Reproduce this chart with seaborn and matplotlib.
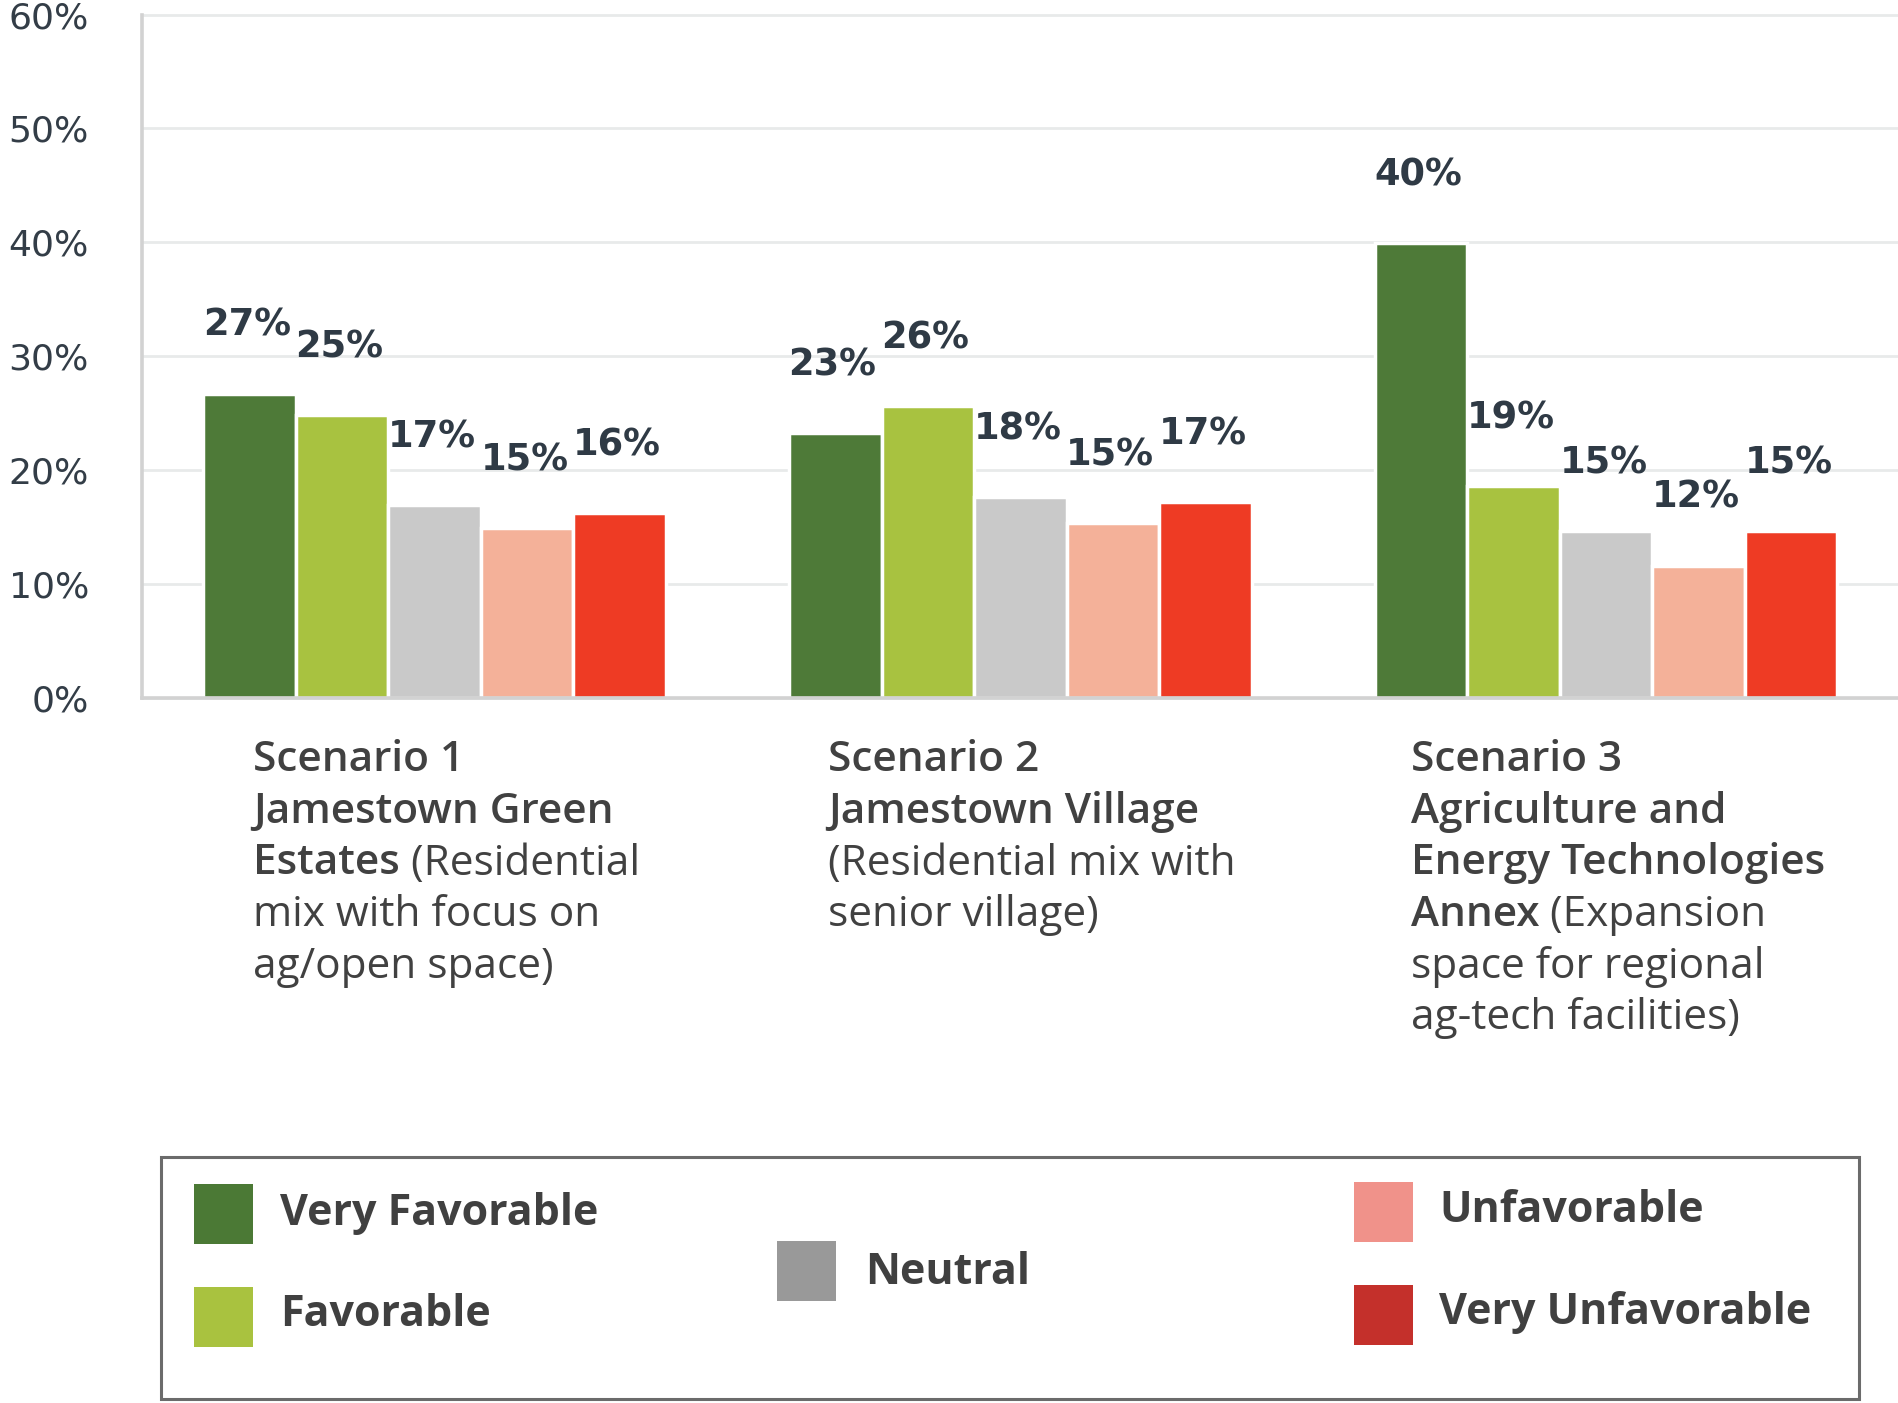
import matplotlib
matplotlib.use("Agg")
import matplotlib.pyplot as plt
from matplotlib.patches import Rectangle
import seaborn as sns
import pandas as pd

# ---------------- data ----------------
scenarios = ["Scenario 1", "Scenario 2", "Scenario 3"]
ratings = ["Very Favorable", "Favorable", "Neutral", "Unfavorable", "Very Unfavorable"]
very_favorable = [26.7, 23.2, 39.9]
favorable = [24.8, 25.6, 18.6]
neutral = [16.9, 17.6, 14.6]
unfavorable = [14.9, 15.3, 11.6]
very_unfavorable = [16.2, 17.2, 14.6]
value_labels = {
    "Very Favorable": ["27%", "23%", "40%"],
    "Favorable": ["25%", "26%", "19%"],
    "Neutral": ["17%", "18%", "15%"],
    "Unfavorable": ["15%", "15%", "12%"],
    "Very Unfavorable": ["16%", "17%", "15%"],
}
y_ticks = [0, 10, 20, 30, 40, 50, 60]
y_tick_labels = ["0%", "10%", "20%", "30%", "40%", "50%", "60%"]

# category label text: list of lines, each a list of (text, bold?)
category_text = [
    [[("Scenario 1", True)], [("Jamestown Green", True)],
     [("Estates", True), (" (Residential", False)],
     [("mix with focus on", False)], [("ag/open space)", False)]],
    [[("Scenario 2", True)], [("Jamestown Village", True)],
     [("(Residential mix with", False)], [("senior village)", False)]],
    [[("Scenario 3", True)], [("Agriculture and", True)],
     [("Energy Technologies", True)],
     [("Annex", True), (" (Expansion", False)],
     [("space for regional", False)], [("ag-tech facilities)", False)]],
]

bar_colors = ["#4e7a38", "#a8c240", "#c9c9c9", "#f4b199", "#ee3b24"]
legend_colors = ["#4b7935", "#a9c23f", "#999999", "#f0928a", "#c4302b"]

series = [very_favorable, favorable, neutral, unfavorable, very_unfavorable]
rows = []
for r, vals in zip(ratings, series):
    for s, v in zip(scenarios, vals):
        rows.append({"scenario": s, "rating": r, "value": v})
df = pd.DataFrame(rows)

# ---------------- figure ----------------
W, H = 1899, 1403
DPI = 100
sns.set_theme(style="white")
plt.rcParams["font.family"] = ["DejaVu Sans"]

fig = plt.figure(figsize=(W / DPI, H / DPI), dpi=DPI)
ax_left, ax_right = 141.7, 1899.0
ax_top, ax_bottom = 14.5, 697.6
ax = fig.add_axes([ax_left / W, 1 - ax_bottom / H,
                   (ax_right - ax_left) / W, (ax_bottom - ax_top) / H])

sns.barplot(data=df, x="scenario", y="value", hue="rating",
            order=scenarios, hue_order=ratings, palette=bar_colors,
            width=0.79, edgecolor="white", linewidth=2.5, saturation=1,
            legend=False, ax=ax, zorder=3)

ax.set_xlim(-0.5, 2.5)
ax.set_ylim(0, 60)
ax.set_xlabel("")
ax.set_ylabel("")
ax.set_yticks(y_ticks)
ax.set_yticklabels(y_tick_labels)
ax.set_xticks([0, 1, 2])
ax.set_xticklabels(["", "", ""])
ax.tick_params(axis="both", length=0)
ax.tick_params(axis="y", pad=38, labelsize=26, labelcolor="#333d47")
ax.yaxis.grid(True, color="#e8eaea", linewidth=2.0, zorder=0)
ax.set_axisbelow(True)
for gl in ax.get_ygridlines():
    gl.set_clip_on(False)
for side in ["top", "right"]:
    ax.spines[side].set_visible(False)
for side in ["left", "bottom"]:
    ax.spines[side].set_color("#d2d2d2")
    ax.spines[side].set_linewidth(2.6)
    ax.spines[side].set_zorder(4)

# value labels
for rating, cont in zip(ratings, ax.containers):
    for bar, lab in zip(cont, value_labels[rating]):
        x = bar.get_x() + bar.get_width() / 2
        ax.annotate(lab, (x, bar.get_height()), xytext=(-2, 41.5),
                    textcoords="offset points", ha="center", va="baseline",
                    fontsize=26.5, fontweight="bold", color="#2f3a45", zorder=5)

# ---------------- category labels ----------------
fig.canvas.draw()
renderer = fig.canvas.get_renderer()
lab_font = "Open Sans"
lab_size = 30.5
lab_color = "#414141"
line_h = 51.5
first_baseline = 771.5


def fx(px):
    return px / W


def fy(py):
    return 1 - py / H


def measure(txt, bold):
    t = fig.text(0, 0, txt, fontsize=lab_size, family=lab_font,
                 fontweight="semibold" if bold else "normal")
    w = t.get_window_extent(renderer).width
    t.remove()
    return w


for i, lines in enumerate(category_text):
    widths = [sum(measure(t, b) for t, b in line) for line in lines]
    cx = ax.transData.transform((i + 0.02, 0))[0]
    left = cx - max(widths) / 2
    for j, line in enumerate(lines):
        x = left
        y = first_baseline + j * line_h
        for t, b in line:
            fig.text(fx(x), fy(y), t, fontsize=lab_size, family=lab_font,
                     fontweight="semibold" if b else "normal",
                     color=lab_color, ha="left", va="baseline")
            x += measure(t, b)

# ---------------- legend ----------------
fig.add_artist(Rectangle((fx(161), fy(1399)), fx(1859) - fx(161), fy(1157) - fy(1399),
                         transform=fig.transFigure, fill=False,
                         edgecolor="#6b6b6b", linewidth=2.2))
legend_items = [
    (194, 1184, 280, 1213.5),
    (194, 1287, 280, 1315),
    (777.5, 1241, 865, 1272),
    (1354, 1182, 1439, 1211),
    (1354, 1285, 1439, 1313),
]
for (sx, sy, tx, ty), col, name in zip(legend_items, legend_colors, ratings):
    fig.add_artist(Rectangle((fx(sx), fy(sy + 60)), fx(59), 60 / H,
                             transform=fig.transFigure, facecolor=col,
                             edgecolor="none"))
    fig.text(fx(tx), fy(ty), name, fontsize=31, family=lab_font,
             fontweight="bold", color="#404040", ha="left", va="center")

fig.savefig("out.png", dpi=DPI, facecolor="white")
